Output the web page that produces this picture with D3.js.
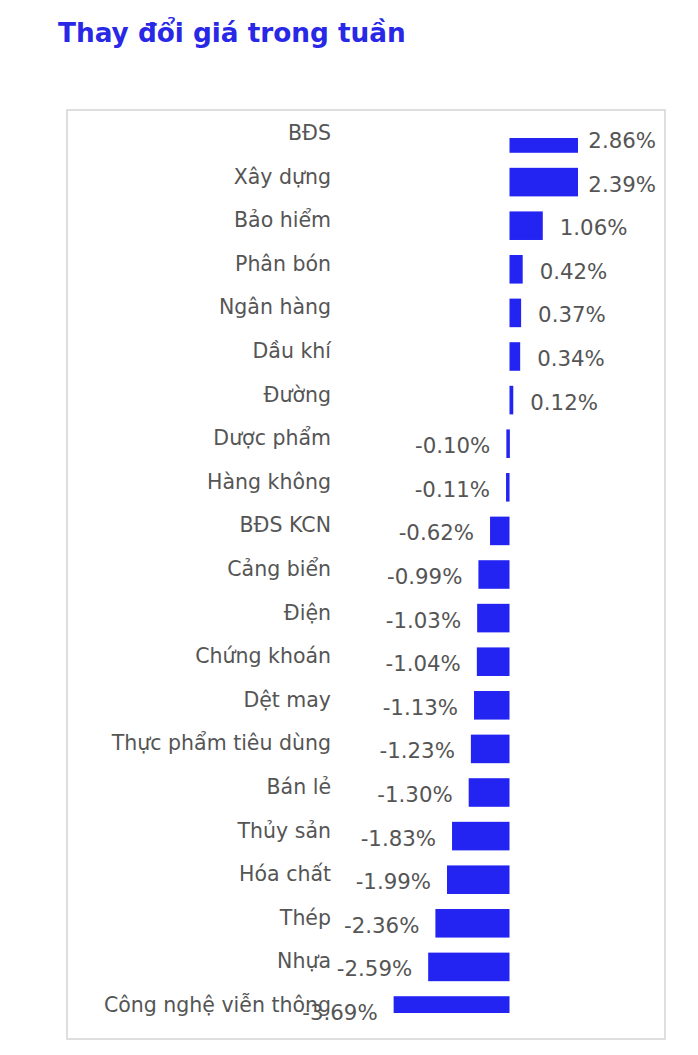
<!DOCTYPE html>
<html>
<head>
<meta charset="utf-8">
<script src="https://cdn.jsdelivr.net/npm/d3@7"></script>
<style>
  html, body { margin: 0; padding: 0; background: #fff; }
  svg { display: block; }
</style>
</head>
<body>
<svg id="chart" width="698" height="1055"></svg>
<script>
const title = "Thay đổi giá trong tuần";
const categories = [
  "BĐS", "Xây dựng", "Bảo hiểm", "Phân bón", "Ngân hàng", "Dầu khí", "Đường",
  "Dược phẩm", "Hàng không", "BĐS KCN", "Cảng biển", "Điện", "Chứng khoán",
  "Dệt may", "Thực phẩm tiêu dùng", "Bán lẻ", "Thủy sản", "Hóa chất", "Thép",
  "Nhựa", "Công nghệ viễn thông"
];
const changes = [
  2.86, 2.39, 1.06, 0.42, 0.37, 0.34, 0.12,
  -0.10, -0.11, -0.62, -0.99, -1.03, -1.04,
  -1.13, -1.23, -1.30, -1.83, -1.99, -2.36,
  -2.59, -3.69
];

const svg = d3.select("#chart");
const barColor = "#2323f2";
const textColor = "#555555";

svg.append("text")
  .attr("x", 58).attr("y", 42)
  .attr("font-family", "DejaVu Sans, Verdana, sans-serif")
  .attr("font-weight", "bold")
  .attr("font-size", 26.3)
  .attr("fill", "#2828e6")
  .text(title);

// frame
svg.append("rect")
  .attr("x", 67).attr("y", 110)
  .attr("width", 598).attr("height", 929)
  .attr("fill", "none")
  .attr("stroke", "#d4d4d4")
  .attr("stroke-width", 1.5);

const y = d3.scalePoint().domain(categories).range([138.5, 1010.5]);
const barH = y.step() * 0.655;
const x = d3.scaleLinear().domain([-4, 3]).range([509.5 - 4 * 31.4, 509.5 + 3 * 31.4]);

const defs = svg.append("defs");
defs.append("clipPath").attr("id", "plotClip")
  .append("rect")
  .attr("x", 70).attr("y", 138)
  .attr("width", 578 - 70).attr("height", 1013 - 138);

svg.append("g").attr("clip-path", "url(#plotClip)")
  .selectAll("rect")
  .data(categories)
  .join("rect")
  .attr("x", (d, i) => Math.min(x(0), x(changes[i])))
  .attr("y", d => y(d) - barH / 2)
  .attr("width", (d, i) => Math.max(3.5, Math.abs(x(changes[i]) - x(0))))
  .attr("height", barH)
  .attr("fill", barColor);

svg.append("g")
  .selectAll("text")
  .data(categories)
  .join("text")
  .attr("x", 331)
  .attr("y", d => y(d) + 1.5)
  .attr("text-anchor", "end")
  .attr("font-family", "DejaVu Sans, Verdana, sans-serif")
  .attr("font-size", 20.5)
  .attr("fill", textColor)
  .text(d => d);

const fmt = v => v.toFixed(2) + "%";
svg.append("g")
  .selectAll("text")
  .data(categories)
  .join("text")
  .attr("y", d => y(d) + 9.5)
  .attr("font-family", "DejaVu Sans, Verdana, sans-serif")
  .attr("font-size", 21.3)
  .attr("fill", textColor)
  .text((d, i) => fmt(changes[i]))
  .each(function (d, i) {
    const v = changes[i];
    const sel = d3.select(this);
    if (v >= 0) {
      const len = this.getComputedTextLength();
      sel.attr("text-anchor", "start").attr("x", Math.min(x(v) + 17, 656 - len));
    } else {
      sel.attr("text-anchor", "end").attr("x", x(v) - 16);
    }
  });
</script>
</body>
</html>
